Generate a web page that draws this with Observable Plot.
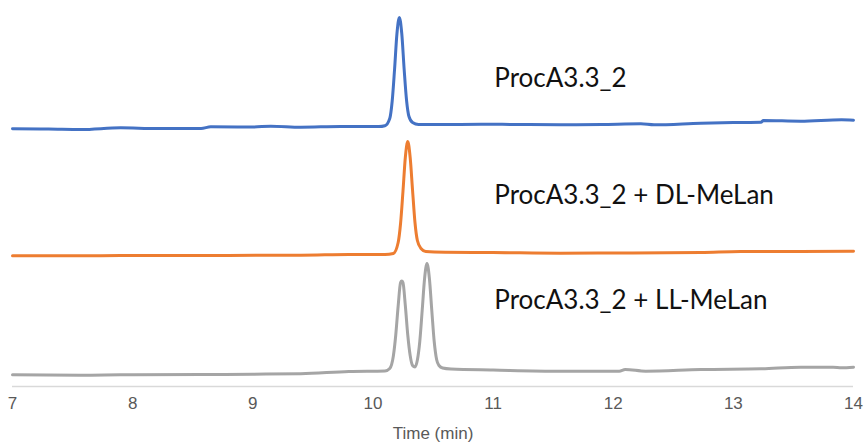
<!DOCTYPE html>
<html>
<head>
<meta charset="utf-8">
<script src="https://cdn.jsdelivr.net/npm/d3@7"></script>
<script src="https://cdn.jsdelivr.net/npm/@observablehq/plot@0.6"></script>
<style>
  html, body { margin: 0; padding: 0; background: #fff; }
</style>
</head>
<body>
<div id="chart"></div>
<script>
// Retention time (min) and detector signal (arbitrary units, traces stacked)
const blueTrace = [
  [7.00,257.7],[7.30,257.5],[7.57,257.0],[7.90,258.7],[8.20,258.0],[8.57,258.0],[8.65,259.7],
  [9.00,259.5],[9.15,260.3],[9.40,259.3],[9.73,260.0],[10.05,260.0],[10.10,260.8],[10.14,268],
  [10.16,285],[10.18,317],[10.20,353],[10.22,369],[10.24,353],[10.26,317],[10.28,286],[10.30,270],
  [10.33,264],[10.38,262],[10.60,262],[10.90,262.3],[11.20,262],[11.56,261.7],[11.90,262],
  [12.23,262.7],[12.34,261.7],[12.73,263.3],[13.00,264],[13.23,264.3],[13.25,266],[13.56,265.3],
  [13.90,266.7],[14.00,266.3]
];
const orangeTrace = [
  [7.00,130.7],[7.57,130.7],[7.90,131],[8.57,131],[9.15,131.3],[9.40,131.3],[9.80,132],[10.10,132],
  [10.17,133],[10.21,144],[10.23,163],[10.25,195],[10.27,229.5],[10.29,245],[10.31,229],[10.33,196],
  [10.35,164],[10.37,146],[10.40,138],[10.44,135],[10.60,134.3],[11.00,134],[11.56,133.3],[12.00,133.5],
  [12.73,134],[13.06,135],[13.56,135],[14.00,135.3]
];
const grayTrace = [
  [7.00,11.7],[7.57,11.3],[7.90,11.7],[8.57,12],[9.00,12.3],[9.40,12.7],[9.80,15],[10.10,15.5],
  [10.14,18],[10.17,30.5],[10.19,51.5],[10.21,80.5],[10.23,104],[10.24,105.5],[10.25,104],[10.27,80.5],
  [10.29,51.5],[10.31,31],[10.33,21],[10.35,19.5],[10.37,26.5],[10.39,45],[10.41,76],[10.43,108],
  [10.45,123],[10.47,108],[10.49,76],[10.51,45],[10.53,27],[10.55,21],[10.58,18.5],[10.65,17.5],
  [11.00,16.5],[11.56,15.3],[12.05,15.3],[12.10,17],[12.27,15.3],[12.73,17],[13.23,17.7],[13.56,19.3],
  [13.83,19.3],[13.90,18.7],[14.00,19.3]
];
const seriesNames = ["ProcA3.3_2", "ProcA3.3_2 + DL-MeLan", "ProcA3.3_2 + LL-MeLan"];
const labelTime = [11.01, 11.01, 11.01];
const labelLevel = [308, 191, 86];
const xTicks = [7, 8, 9, 10, 11, 12, 13, 14];

const colors = ["#4472c4", "#ed7d31", "#a5a5a5"];
const traces = [blueTrace, orangeTrace, grayTrace];
const rows = traces.flatMap((tr, i) => tr.map(([t, v]) => ({t, v, s: seriesNames[i]})));
const labels = seriesNames.map((name, i) => ({name, t: labelTime[i], v: labelLevel[i]}));

const chart = Plot.plot({
  width: 865,
  height: 442,
  marginLeft: 12,
  marginRight: 12,
  marginTop: 0,
  marginBottom: 56,
  style: {fontFamily: "'Liberation Sans', Arial, sans-serif", fontSize: "16px", color: "#595959", background: "#fff"},
  x: {domain: [7, 14]},
  y: {domain: [0, 386], axis: null},
  color: {domain: seriesNames, range: colors},
  marks: [
    Plot.ruleY([0], {stroke: "#d9d9d9", strokeWidth: 1.5}),
    Plot.axisX({ticks: xTicks, tickSize: 0, tickPadding: 10, tickFormat: d => String(d), fontSize: 17,
      label: "Time (min)", labelAnchor: "center", labelArrow: "none", labelOffset: 52, fill: "#595959"}),
    Plot.line(rows, {x: "t", y: "v", z: "s", stroke: "s", strokeWidth: 3, curve: "monotone-x"}),
    Plot.text(labels, {x: "t", y: "v", text: "name", textAnchor: "start", lineAnchor: "middle",
      fontFamily: "Lato, 'Open Sans', sans-serif", fontSize: 26, fill: "#111"})
  ]
});
document.getElementById("chart").appendChild(chart);
</script>
</body>
</html>
